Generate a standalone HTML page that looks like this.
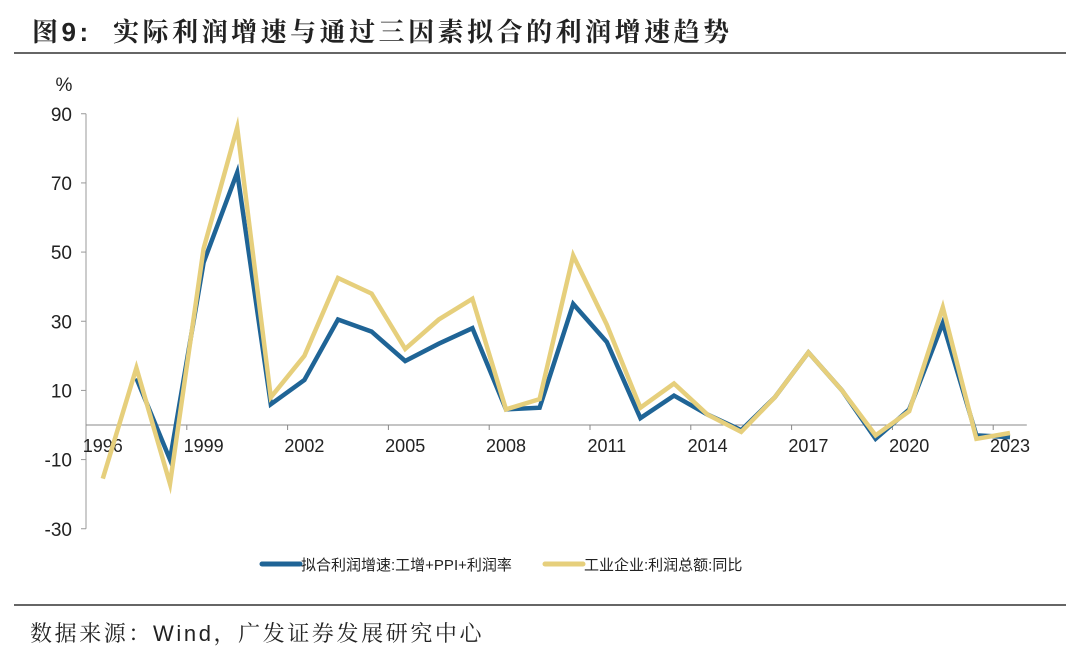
<!DOCTYPE html>
<html><head><meta charset="utf-8">
<style>
html,body{margin:0;padding:0;background:#fff;}
body{width:1080px;height:659px;position:relative;overflow:hidden;font-family:"Liberation Sans","Noto Sans CJK SC",sans-serif;}
#title{position:absolute;left:32px;top:12px;font-size:26px;font-weight:bold;color:#222;letter-spacing:3.5px;white-space:nowrap;font-family:"Liberation Sans","Noto Serif CJK SC",serif;}
#source{position:absolute;left:30px;top:617px;font-size:22px;color:#222;white-space:nowrap;letter-spacing:2.6px;font-family:"Liberation Sans","Noto Serif CJK SC",serif;}
svg{position:absolute;left:0;top:0;}
</style></head>
<body>
<div id="title">图9:&nbsp; 实际利润增速与通过三因素拟合的利润增速趋势</div>
<svg id="chart" width="1080" height="659"></svg>
<div id="source">数据来源：Wind，广发证券发展研究中心</div>
<script>
const years = [1996,1997,1998,1999,2000,2001,2002,2003,2004,2005,2006,2007,2008,2009,2010,2011,2012,2013,2014,2015,2016,2017,2018,2019,2020,2021,2022,2023];
const fittedValues = [null,13.5,-10,47,73,6,13,30.5,27,18.5,23.5,28,4.5,5,35,24,2,8.5,3,-1.5,8,21,10,-4,4.5,29.5,-3,-3.5];
const actualValues = [-15.5,16.5,-17,51,86,8,20,42.5,38,22,30.5,36.5,4.5,7.5,49,29,5,12,3,-2,8,21,10,-3,4,34,-4,-2.3];
const yTicks = [90,70,50,30,10,-10,-30];
const xLabelYears = [1996,1999,2002,2005,2008,2011,2014,2017,2020,2023];

const NS='http://www.w3.org/2000/svg';
const svg=document.getElementById('chart');
const axL=86, step=33.6, y0=425, yScale=415/120;
const xPos=i=>axL+step*(i+0.5);
const yPos=v=>y0-v*yScale;
function mk(tag,attrs,parent){const e=document.createElementNS(NS,tag);for(const k in attrs)e.setAttribute(k,attrs[k]);(parent||svg).appendChild(e);return e;}

let r=mk('line',{x1:14,y1:53,x2:1066,y2:53,stroke:'#333','stroke-width':1.5});


r=mk('line',{x1:14,y1:605,x2:1066,y2:605,stroke:'#333','stroke-width':1.5});



const ya=mk('line',{x1:axL,y1:yPos(90),x2:axL,y2:yPos(-30),stroke:'#999','stroke-width':1});


const unit=mk('text',{x:64,y:91,'font-size':19,fill:'#222','text-anchor':'middle'});unit.textContent='%';


yTicks.forEach(v=>{
  const t=mk('line',{x1:axL-5,y1:yPos(v),x2:axL,y2:yPos(v),stroke:'#999'});
  
  
  const l=mk('text',{x:72,y:yPos(v)+7,'font-size':19,fill:'#222','text-anchor':'end'});
  l.textContent=v;
  
  
});
const xa=mk('line',{x1:axL,y1:y0,x2:axL+step*years.length,y2:y0,stroke:'#888','stroke-width':1});


for(let k=3;k<years.length;k+=3){
  const t=mk('line',{x1:axL+step*k,y1:y0,x2:axL+step*k,y2:y0+5,stroke:'#888'});
  
  
}
xLabelYears.forEach(yr=>{
  const i=years.indexOf(yr);
  const l=mk('text',{x:xPos(i),y:452,'font-size':18,fill:'#222','text-anchor':'middle'});
  l.textContent=yr;
  
  
});
function series(vals,color,name){
  let d='';let pen=false;
  vals.forEach((v,i)=>{if(v===null){pen=false;return;}d+=(pen?'L':'M')+xPos(i).toFixed(1)+','+yPos(v).toFixed(1)+' ';pen=true;});
  const p=mk('path',{d:d,fill:'none',stroke:color,'stroke-width':4.5,'stroke-linejoin':'miter','stroke-miterlimit':10});
  
  
}
series(fittedValues,'#1f6496','fitted-profit-line');
series(actualValues,'#e6cf7c','actual-profit-line');

function legend(x,color,text,name,fs){
  const g=mk('g',{});
  
  
  mk('line',{x1:x,y1:564,x2:x+38,y2:564,stroke:color,'stroke-width':5,'stroke-linecap':'round'},g);
  const t=mk('text',{x:x+39,y:570,'font-size':fs,fill:'#222'},g);
  t.textContent=text;
}
legend(262,'#1f6496','拟合利润增速:工增+PPI+利润率','legend-entry-fitted',15);
legend(545,'#e6cf7c','工业企业:利润总额:同比','legend-entry-actual',15);
</script>
</body></html>
